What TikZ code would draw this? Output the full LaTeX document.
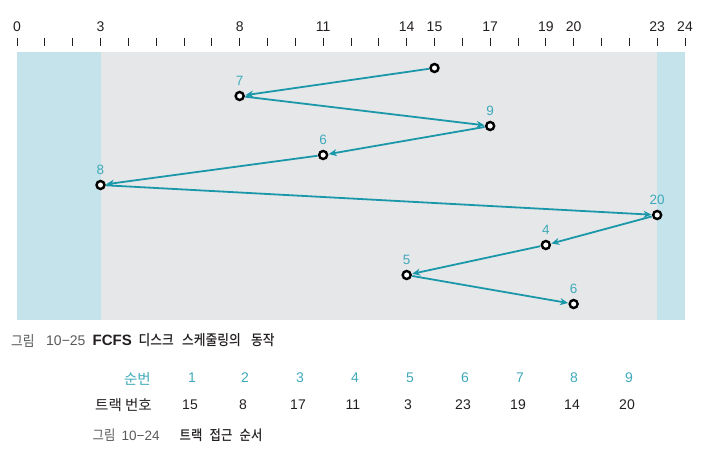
\documentclass[tikz,border=0pt]{standalone}
\usepackage{fontspec}
\setmainfont{Liberation Sans}
\newfontfamily\kr{Noto Sans CJK KR}
\newfontfamily\krb{Noto Sans CJK KR Medium}
\newcommand\narrowkr[1]{\scalebox{0.88}[1]{#1}}
\usetikzlibrary{arrows.meta}
\definecolor{tealline}{HTML}{1A98AA}
\definecolor{teallabel}{HTML}{3FAABA}
\definecolor{bggrey}{HTML}{E6E7E9}
\definecolor{bgblue}{HTML}{C4E3EA}
\definecolor{txtgrey}{HTML}{58595B}
\definecolor{txtdark}{HTML}{231F20}
\tikzset{
  tickmark/.style={draw=txtdark, line width=0.9pt},
  scalelbl/.style={font=\fontsize{14}{16}\selectfont, text=txtdark, inner sep=0pt},
  trackpt/.style={circle, draw=black, fill=white, line width=2.4pt, minimum size=8pt, inner sep=0pt},
  ptlbl/.style={font=\fontsize{13.5}{16}\selectfont, text=teallabel, inner sep=0pt, anchor=south},
  conn/.style={draw=tealline, line width=1.8pt, -{Stealth[length=8pt,width=7pt]}, shorten >=0.5pt, shorten <=0.5pt},
  tbl/.style={font=\fontsize{14}{16}\selectfont, inner sep=0pt},
  krtbl/.style={font=\fontsize{14.5}{16}\selectfont\kr, inner sep=0pt},
  capgrey/.style={anchor=west, inner sep=0pt, text=txtgrey},
  capdark/.style={anchor=west, inner sep=0pt, text=txtdark},
}
\begin{document}
\begin{tikzpicture}[x=1pt,y=-1pt]
\useasboundingbox (0,0) rectangle (703,449);
% background bands
\fill[bggrey] (17,52) rectangle (685,320);
\fill[bgblue] (17,52) rectangle (100.5,320);
\fill[bgblue] (657,52) rectangle (685,320);
% scale
\foreach \i in {0,...,24} \draw[tickmark] ({17+27.833*\i},38) -- ({17+27.833*\i},46);
\foreach \i in {0,3,8,11,14,15,17,19,20,23,24}
  \node[scalelbl] (s\i) at ({17+27.833*\i},26.7) {\i};
% track points
\foreach \t/\y/\n [count=\k] in {15/68/,8/96/7,17/126/9,11/155/6,3/185/8,23/215/20,19/245/4,14/275/5,20/304/6}{
  \node[trackpt] (p\k) at ({17+27.833*\t},\y) {};
  \node[ptlbl] (l\k) at ({17+27.833*\t},{\y-10}) {\n};
}
\foreach \a/\b in {1/2,2/3,3/4,4/5,5/6,6/7,7/8,8/9}
  \draw[conn] (p\a) -- (p\b);
% caption 1
\node[capgrey, font=\fontsize{14.5}{16}\selectfont\kr] (c1a) at (11,340.5) {\narrowkr{그림}};
\node[capgrey, font=\fontsize{14}{16}\selectfont] (c1b) at (46,340.5) {10−25};
\node[capdark, font=\fontsize{15}{16}\selectfont\bfseries] (c1c) at (92.5,340.5) {FCFS};
\node[capdark, font=\fontsize{14.5}{16}\selectfont\krb] (c1d) at (138.5,340.5) {\narrowkr{디스크}};
\node[capdark, font=\fontsize{14.5}{16}\selectfont\krb] (c1e) at (182,340.5) {\narrowkr{스케줄링의}};
\node[capdark, font=\fontsize{14.5}{16}\selectfont\krb] (c1f) at (251,340.5) {\narrowkr{동작}};
% table
\node[krtbl, anchor=east, text=teallabel] (h1) at (151,379) {순번};
\node[krtbl, anchor=east, text=txtdark] (h2) at (152,405) {트랙 번호};
\foreach \n/\x/\v [count=\k] in {1/192/15,2/245/8,3/300/17,4/355/11,5/410/3,6/465/23,7/520/19,8/574/14,9/629/20}{
  \node[tbl, text=teallabel] (n\k) at (\x,378) {\n};
  \node[tbl, text=txtdark] (v\k) at (\x-2,405) {\v};
}
% caption 2
\node[capgrey, font=\fontsize{14}{15}\selectfont\kr] (c2a) at (92.5,435.5) {\narrowkr{그림}};
\node[capgrey, font=\fontsize{13.5}{16}\selectfont] (c2b) at (121.5,435.5) {10−24};
\node[capdark, font=\fontsize{14}{15}\selectfont\krb] (c2c) at (179.5,435.5) {\narrowkr{트랙}};
\node[capdark, font=\fontsize{14}{15}\selectfont\krb] (c2d) at (209.5,435.5) {\narrowkr{접근}};
\node[capdark, font=\fontsize{14}{15}\selectfont\krb] (c2e) at (239.5,435.5) {\narrowkr{순서}};
\end{tikzpicture}
\end{document}
